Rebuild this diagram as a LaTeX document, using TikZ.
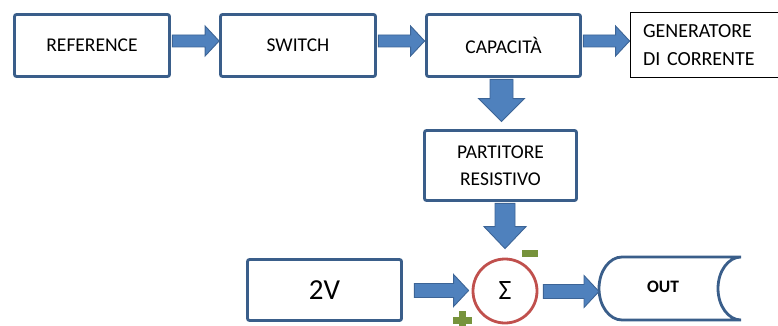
\documentclass[tikz,border=0pt]{standalone}
\usepackage{fontspec}
\setmainfont{Carlito}
\usetikzlibrary{calc}
\definecolor{boxblue}{RGB}{58,94,138}
\definecolor{arrfill}{RGB}{79,129,189}
\definecolor{arrdraw}{RGB}{60,100,150}
\definecolor{sumred}{RGB}{192,80,77}
\definecolor{signgreen}{RGB}{119,147,60}
\tikzset{
  blockbox/.style={draw=boxblue, line width=2.8pt, rounded corners=2pt, fill=white,
    inner sep=0pt, font=\fontsize{19.5}{27}\selectfont, align=center},
  genbox/.style={draw=black, line width=0.8pt, fill=white, inner xsep=13pt, inner ysep=0pt,
    text width=134pt, minimum height=65pt, align=left, font=\fontsize{20}{28}\selectfont},
  sumcircle/.style={circle, draw=sumred, line width=2.8pt, minimum size=64pt, inner sep=0pt,
    font=\fontsize{28}{32}\selectfont},
  blockarrow/.style={fill=arrfill, draw=arrdraw, line width=0.9pt, line join=miter},
  outshape/.style={draw=boxblue, line width=2.8pt, fill=white},
  sign/.style={fill=signgreen, draw=none}
}
\newcommand\hbarrow[5]{%
  \draw[blockarrow] let \p1=(#1), \p2=(#2) in
    (\x1,\y1+#3pt) -- (\x2-#5pt,\y1+#3pt) -- (\x2-#5pt,\y1+#4pt) -- (\x2,\y1)
    -- (\x2-#5pt,\y1-#4pt) -- (\x2-#5pt,\y1-#3pt) -- (\x1,\y1-#3pt) -- cycle;}
\newcommand\vbarrow[5]{%
  \draw[blockarrow] let \p1=(#1), \p2=(#2) in
    (\x1+#3pt,\y1) -- (\x1+#3pt,\y2+#5pt) -- (\x1+#4pt,\y2+#5pt) -- (\x1,\y2)
    -- (\x1-#4pt,\y2+#5pt) -- (\x1-#3pt,\y2+#5pt) -- (\x1-#3pt,\y1) -- cycle;}
\begin{document}
\begin{tikzpicture}[x=1pt,y=-1pt]
\useasboundingbox (0,0) rectangle (778,326);
% boxes
\node[blockbox, minimum width=155pt, minimum height=62pt] (ref) at (92,45.5) {REFERENCE};
\node[blockbox, minimum width=155pt, minimum height=62pt] (sw) at (298,45.5) {SWITCH};
\node[blockbox, minimum width=154pt, minimum height=62pt] (cap) at (503.5,45.5) {CAPACITÀ};
\node[genbox] (gen) at (710,45) {GENERATORE\\DI CORRENTE};
\node[blockbox, minimum width=152pt, minimum height=70pt] (part) at (500.5,165.5) {PARTITORE\\RESISTIVO};
\node[sumcircle] (sum) at (505,291) {Σ};
\node[blockbox, minimum width=154pt, minimum height=61pt, font=\fontsize{29}{32}\selectfont] (v2) at (324.5,290) {2V};
% OUT shape
\draw[outshape] (741,257) -- (622,257)
  .. controls (609.3,257) and (599,271.1) .. (599,288.5)
  .. controls (599,305.9) and (609.3,320) .. (622,320)
  -- (741,320)
  .. controls (728.3,320) and (718,305.9) .. (718,288.5)
  .. controls (718,271.1) and (728.3,257) .. (741,257) -- cycle;
\node[font=\fontsize{17.5}{20}\selectfont\bfseries] (out) at (663,287) {OUT};
\coordinate (outL) at (599,291);
% signs
\fill[sign] (522,250) rectangle (538,257);
\fill[sign] (459,310.5) rectangle (466,329.5);
\fill[sign] (453,316.5) rectangle (472,323.5);
% arrows
\hbarrow{[shift={(1.5pt,4.5pt)}]ref.east}{[yshift=4.5pt]sw.west}{6}{15}{14}
\hbarrow{[shift={(1.5pt,4.5pt)}]sw.east}{[shift={(-0.5pt,4.5pt)}]cap.west}{6}{15}{14}
\hbarrow{[shift={(1.5pt,4.5pt)}]cap.east}{[yshift=4pt]gen.west}{6}{15}{14}
\vbarrow{[shift={(-2pt,-1.5pt)}]cap.south}{[yshift=7.5pt]part.north}{11.5}{23}{23}
\vbarrow{[shift={(4.5pt,-1.5pt)}]part.south}{[yshift=9pt]sum.north}{10}{21}{22}
\hbarrow{[shift={(11.5pt,-0.5pt)}]v2.east}{[xshift=-3pt]sum.west}{7}{16}{15}
\hbarrow{[shift={(5pt,-0.5pt)}]sum.east}{outL}{7}{16}{15}
\end{tikzpicture}
\end{document}
